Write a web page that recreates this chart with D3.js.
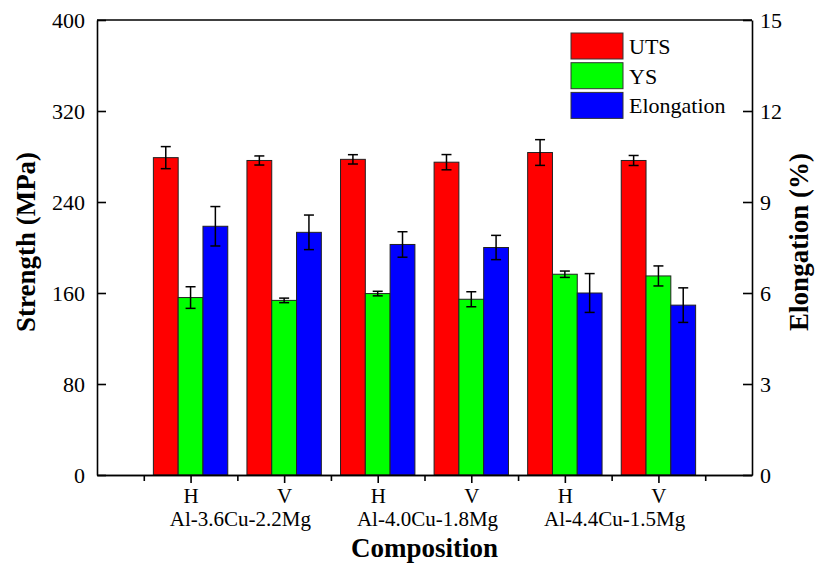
<!DOCTYPE html>
<html>
<head>
<meta charset="utf-8">
<script src="https://cdn.jsdelivr.net/npm/d3@7"></script>
<style>
	body { margin: 0; background: #fff; }
	svg { display: block; font-family: "Liberation Serif", "Times New Roman", serif; }
	.axis path, .axis line { stroke: #000; stroke-width: 1.6; }
	.title { font-size: 27px; font-weight: bold; fill: #000; }
</style>
</head>
<body>
<div id="vis"></div>
<script>
var states = ['H', 'V', 'H', 'V', 'H', 'V'];
var alloys = ['Al-3.6Cu-2.2Mg', 'Al-4.0Cu-1.8Mg', 'Al-4.4Cu-1.5Mg'];
var uts = [279, 276.5, 277.5, 275, 283.5, 276.5];
var utsErr = [9.7, 4, 4.1, 6.7, 11.3, 4.4];
var ys = [156, 153.5, 159.5, 154.5, 176.5, 175];
var ysErr = [9.5, 2, 2, 6.6, 2.8, 8.8];
var elong = [8.2, 8.0, 7.6, 7.5, 6.0, 5.6];
var elongErr = [0.65, 0.57, 0.42, 0.40, 0.64, 0.57];
var leftTicks = [0, 80, 160, 240, 320, 400];
var rightTicks = [0, 3, 6, 9, 12, 15];
var seriesNames = ['UTS', 'YS', 'Elongation'];
var seriesColors = ['#ff0000', '#00ff00', '#0000ff'];

var width = 819,
	height = 565,
	serif = '"Liberation Serif", "Times New Roman", serif';

var margin = { left: 97, top: 20, right: 67, bottom: 90 };

var drawWidth = width - margin.left - margin.right,
	drawHeight = height - margin.top - margin.bottom;

var svg = d3.select('#vis')
	.append('svg')
	.attr('width', width)
	.attr('height', height);

var g = svg.append('g')
	.attr('transform', 'translate(' + margin.left + ',' + margin.top + ')');

var x = d3.scaleLinear().domain([0, 7]).range([0, drawWidth]);
var y = d3.scaleLinear().domain([0, 400]).range([drawHeight, 0]);
var y2 = d3.scaleLinear().domain([0, 15]).range([drawHeight, 0]);

var barW = x(0.265) - x(0);

// one record per bar
var bars = [];
states.forEach(function(s, i) {
	var pos = i + 1;
	bars.push({ s: 0, pos: pos, v: uts[i], e: utsErr[i], sc: y });
	bars.push({ s: 1, pos: pos, v: ys[i], e: ysErr[i], sc: y });
	bars.push({ s: 2, pos: pos, v: elong[i], e: elongErr[i], sc: y2 });
});

g.selectAll('rect.bar')
	.data(bars)
	.enter().append('rect')
	.attr('class', 'bar')
	.attr('x', function(d) { return x(d.pos) + (d.s - 1.5) * barW; })
	.attr('y', function(d) { return d.sc(d.v); })
	.attr('width', barW)
	.attr('height', function(d) { return drawHeight - d.sc(d.v); })
	.attr('fill', function(d) { return seriesColors[d.s]; })
	.attr('stroke', '#222')
	.attr('stroke-width', 1);

// error bars
var eb = g.selectAll('g.err')
	.data(bars)
	.enter().append('g')
	.attr('class', 'err')
	.attr('stroke', '#000')
	.attr('stroke-width', 1.5)
	.attr('transform', function(d) { return 'translate(' + (x(d.pos) + (d.s - 1) * barW) + ',0)'; });

eb.append('line')
	.attr('y1', function(d) { return d.sc(d.v + d.e); })
	.attr('y2', function(d) { return d.sc(d.v - d.e); });
eb.append('line')
	.attr('x1', -5).attr('x2', 5)
	.attr('y1', function(d) { return d.sc(d.v + d.e); })
	.attr('y2', function(d) { return d.sc(d.v + d.e); });
eb.append('line')
	.attr('x1', -5).attr('x2', 5)
	.attr('y1', function(d) { return d.sc(d.v - d.e); })
	.attr('y2', function(d) { return d.sc(d.v - d.e); });

// axes
g.append('g')
	.attr('class', 'axis')
	.call(d3.axisLeft(y).tickValues(leftTicks).tickSizeInner(-9).tickSizeOuter(0).tickPadding(12))
	.attr('font-family', serif)
	.attr('font-size', 22);

g.append('g')
	.attr('class', 'axis')
	.attr('transform', 'translate(' + drawWidth + ',0)')
	.call(d3.axisRight(y2).tickValues(rightTicks).tickSizeInner(-9).tickSizeOuter(0).tickPadding(8))
	.attr('font-family', serif)
	.attr('font-size', 22);

g.append('line')
	.attr('x1', 0).attr('x2', drawWidth)
	.attr('y1', 0).attr('y2', 0)
	.attr('stroke', '#000').attr('stroke-width', 1.6);

// minor ticks on x
g.append('g')
	.attr('class', 'axis')
	.attr('transform', 'translate(0,' + drawHeight + ')')
	.call(d3.axisBottom(x).tickValues([0.5, 1.5, 2.5, 3.5, 4.5, 5.5, 6.5]).tickSizeInner(6).tickSizeOuter(0).tickFormat(''));

var xAxis = g.append('g')
	.attr('class', 'axis')
	.attr('transform', 'translate(0,' + drawHeight + ')')
	.call(d3.axisBottom(x).tickValues([1, 2, 3, 4, 5, 6]).tickSizeInner(8).tickSizeOuter(0).tickPadding(6)
		.tickFormat(function(d) { return states[d - 1]; }))
	.attr('font-family', serif)
	.attr('font-size', 21);

xAxis.selectAll('text').attr('dy', '0.66em');

g.selectAll('text.alloy')
	.data(alloys)
	.enter().append('text')
	.attr('class', 'alloy')
	.attr('x', function(d, i) { return x(1.5 + 2 * i) + 3; })
	.attr('y', drawHeight + 51)
	.attr('text-anchor', 'middle')
	.attr('font-size', 21)
	.text(function(d) { return d; });

svg.append('text')
	.attr('class', 'title')
	.attr('x', margin.left + x(3.5))
	.attr('y', 557)
	.attr('text-anchor', 'middle')
	.text('Composition');

svg.append('text')
	.attr('class', 'title')
	.attr('transform', 'translate(35,' + (margin.top + 222) + ') rotate(-90)')
	.attr('text-anchor', 'middle')
	.text('Strength (MPa)');

svg.append('text')
	.attr('class', 'title')
	.attr('transform', 'translate(808,' + (margin.top + 222) + ') rotate(-90)')
	.attr('text-anchor', 'middle')
	.text('Elongation (%)');

// legend
var legend = svg.append('g')
	.selectAll('g')
	.data(seriesNames)
	.enter().append('g')
	.attr('transform', function(d, i) { return 'translate(571,' + (33 + i * 29.7) + ')'; });

legend.append('rect')
	.attr('width', 52)
	.attr('height', 26)
	.attr('fill', function(d, i) { return seriesColors[i]; })
	.attr('stroke', '#333')
	.attr('stroke-width', 1);

legend.append('text')
	.attr('x', 58)
	.attr('y', 21)
	.attr('font-size', 22)
	.text(function(d) { return d; });
</script>
</body>
</html>
